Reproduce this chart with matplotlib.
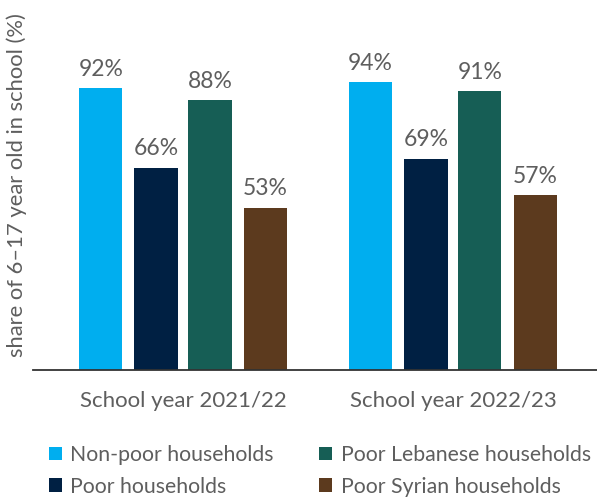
import matplotlib
matplotlib.use("Agg")
import matplotlib.pyplot as plt
from matplotlib.patches import Patch
import numpy as np

categories = ["School year 2021/22", "School year 2022/23"]
series_names = ["Non-poor households", "Poor households",
                "Poor Lebanese households", "Poor Syrian households"]
non_poor = [92, 94]
poor = [66, 69]
poor_lebanese = [88, 91]
poor_syrian = [53, 57]
colors = ["#00AEEF", "#002043", "#165E55", "#5C3A1E"]

plt.rcParams['font.family'] = ['Lato', 'DejaVu Sans']
txt = "#5e5e5e"

fig = plt.figure(figsize=(5.97, 5.0), dpi=100)
ax = fig.add_axes([0.0553, 0.26, 0.9447, 0.613])

x = np.arange(len(categories))
values = [non_poor, poor, poor_lebanese, poor_syrian]
offsets = [-0.305, -0.1, 0.1, 0.305]
for vals, off, c, name in zip(values, offsets, colors, series_names):
    bars = ax.bar(x + off, vals, width=0.16, color=c, label=name)
    for b, v in zip(bars, vals):
        ax.text(b.get_x() + b.get_width() / 2, v + 4, f"{v}%",
                ha="center", va="baseline", fontsize=16.5, color=txt,
                clip_on=False)

ax.set_xlim(-0.556, 1.534)
ax.set_ylim(0, 100)
for s in ["top", "right", "left"]:
    ax.spines[s].set_visible(False)
ax.spines["bottom"].set_color("#333333")
ax.spines["bottom"].set_linewidth(1.3)
ax.set_yticks([])
ax.set_xticks(x)
ax.set_xticklabels(categories, fontsize=16, color=txt)
ax.tick_params(axis="x", length=0, pad=15)
ax.set_ylabel("share of 6\u201317 year old in school (%)", fontsize=15.8,
              color=txt)
ax.yaxis.set_label_coords(-0.011, 0.604)

handles = [Patch(facecolor=c, edgecolor="none") for c in colors]
fig.legend(handles, series_names, ncol=2, loc="upper left",
           bbox_to_anchor=(0.082, 0.11), frameon=False,
           handlelength=0.6, handleheight=0.6, handletextpad=0.4,
           columnspacing=2.15, labelspacing=0.55, labelcolor=txt,
           borderpad=0, borderaxespad=0, prop={"size": 15.3})

fig.savefig("out.png", dpi=100)
